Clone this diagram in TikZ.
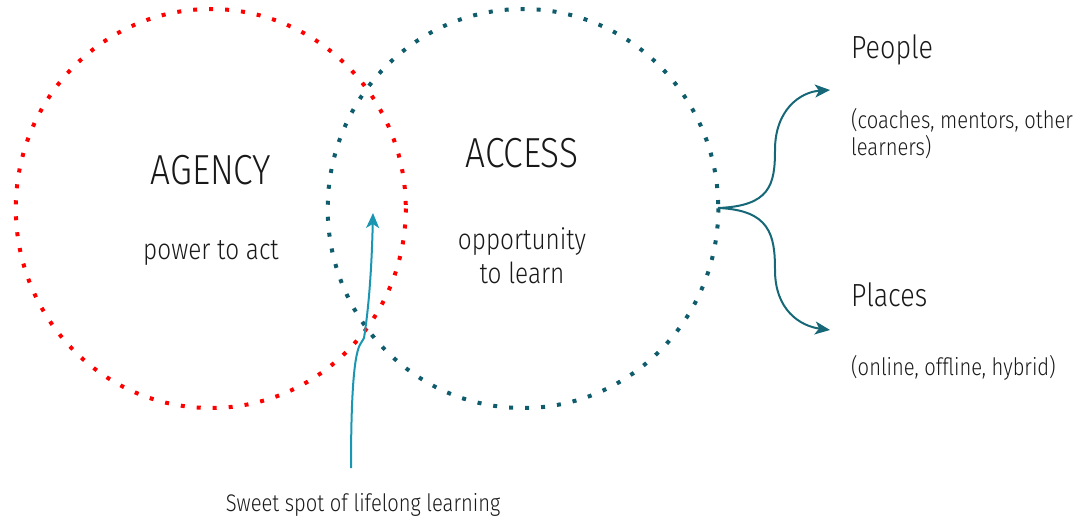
\documentclass[tikz,border=0pt]{standalone}
\usepackage{fontspec}
\setmainfont{Fira Sans}[UprightFont=* Light, FakeStretch=0.84]
\usetikzlibrary{arrows.meta}
\definecolor{dotred}{RGB}{255,0,0}
\definecolor{dotteal}{RGB}{14,92,108}
\definecolor{arrteal}{RGB}{22,104,120}
\definecolor{sweet}{RGB}{26,150,178}
\definecolor{ink}{RGB}{25,25,25}
\tikzset{
  dotring/.style={line width=4pt, dash pattern=on 4pt off 12pt},
  big/.style={text=ink, font=\fontsize{42}{46}\selectfont, inner sep=0pt},
  mid/.style={text=ink, font=\fontsize{32}{36}\selectfont, inner sep=0pt},
  med/.style={text=ink, font=\fontsize{29}{34}\selectfont, inner sep=0pt, align=center},
  small/.style={text=ink, font=\fontsize{24}{27}\selectfont, inner sep=0pt, align=left},
  branch/.style={draw=arrteal, line width=2pt, -{Stealth[length=15pt,width=13pt,inset=4pt]}},
  sweetarrow/.style={draw=sweet, line width=2pt, -{Stealth[length=15pt,width=13pt,inset=4pt]}}
}
\begin{document}
\begin{tikzpicture}[x=1pt,y=-1pt]
\useasboundingbox (0,0) rectangle (1080,519);
\draw[dotring, dotred] (210.8,208.5) ellipse[x radius=195, y radius=199.5];
\draw[dotring, dotteal] (523,208.5) ellipse[x radius=195.3, y radius=199.5];
\node[big] (agency) at (211,170) {AGENCY};
\node[med] (power) at (211,253) {power to act};
\node[big] (access) at (522,153) {ACCESS};
\node[med] (opp) at (522,256) {opportunity\\to learn};
\node[mid, anchor=west] (people) at (851,50) {People};
\node[small, anchor=north west] (peoplesub) at (851,108) {(coaches, mentors, other\\learners)};
\node[mid, anchor=west] (places) at (851,295) {Places};
\node[small, anchor=west] (placessub) at (851,368) {(online, offline, hybrid)};
\node[small, anchor=center] (sweetlabel) at (363,505) {Sweet spot of lifelong learning};
\coordinate (hub) at (718,208);
\coordinate (ptip) at (830,90);
\coordinate (pltip) at (830,330);
\coordinate (sbase) at (351,468);
\coordinate (stip) at (373,213);
\draw[branch] (hub) .. controls (770,206) and (775,185) .. (775,150) .. controls (775,110) and (800,92) .. (ptip);
\draw[branch] (hub) .. controls (770,210) and (775,235) .. (775,270) .. controls (775,310) and (800,326) .. (pltip);
\draw[sweetarrow] (sbase) .. controls (351,395) and (354,352) .. (361,343) -- (364,338) .. controls (370,300) and (372,255) .. (stip);
\end{tikzpicture}
\end{document}
